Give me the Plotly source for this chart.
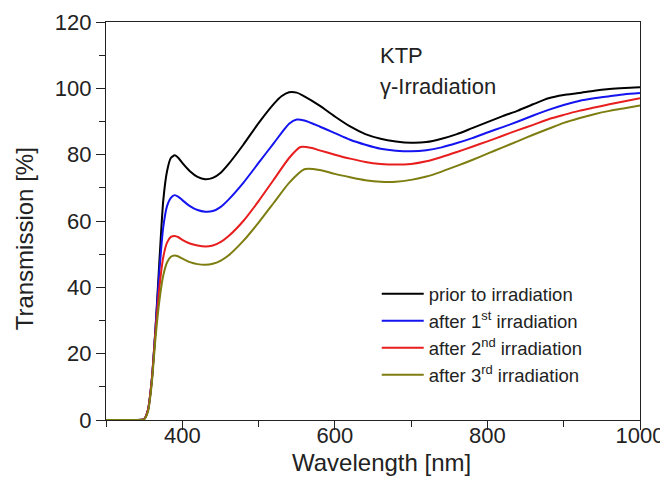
import plotly.graph_objects as go

wl_black = [300, 340, 350, 355, 360, 365, 370, 375, 380, 385, 390, 395, 400, 410, 420, 430, 440, 450, 460, 480, 500, 520, 530, 540, 550, 560, 580, 600, 620, 640, 660, 680, 700, 720, 740, 760, 780, 800, 820, 840, 860, 880, 900, 920, 940, 960, 980, 1000]
t_black = [0, 0, 0.3, 3, 12, 28, 48, 66, 75, 79, 79.8, 79, 77.5, 75, 73.3, 72.6, 73, 74.5, 77, 83, 89.5, 95.3, 97.6, 98.8, 98.7, 97.6, 94.8, 91.5, 88.5, 86.2, 84.8, 84, 83.6, 83.8, 84.8, 86.2, 88, 89.8, 91.6, 93.3, 95.2, 97, 98, 98.6, 99.3, 99.8, 100.1, 100.3]

wl_blue = [300, 340, 350, 355, 360, 365, 370, 375, 380, 385, 390, 395, 400, 410, 420, 430, 440, 450, 460, 480, 500, 520, 540, 550, 560, 580, 600, 620, 640, 660, 680, 700, 720, 740, 760, 780, 800, 820, 840, 860, 880, 900, 920, 940, 960, 980, 1000]
t_blue = [0, 0, 0.3, 3, 12, 28, 45, 58, 64.5, 67, 67.8, 67.3, 66.3, 64.5, 63.3, 62.8, 63, 64.2, 66.3, 71.5, 77.5, 83.5, 89.3, 90.6, 90.3, 88.5, 86.5, 84.5, 83, 81.8, 81.2, 81, 81.3, 82.2, 83.5, 85, 86.7, 88.3, 90, 91.8, 93.5, 95, 96.2, 97, 97.6, 98.2, 98.6]

wl_red = [300, 340, 350, 355, 360, 365, 370, 375, 380, 385, 390, 395, 400, 410, 420, 430, 440, 450, 460, 480, 500, 520, 540, 555, 570, 580, 600, 620, 640, 660, 680, 700, 720, 740, 760, 780, 800, 820, 840, 860, 880, 900, 920, 940, 960, 980, 1000]
t_red = [0, 0, 0.3, 3, 12, 27, 40, 49, 53.5, 55.2, 55.5, 55.1, 54.3, 53.2, 52.6, 52.3, 52.6, 53.6, 55.3, 60, 66, 72.5, 79, 82.3, 82, 81.3, 80, 78.8, 77.8, 77.2, 77, 77.2, 78, 79.3, 80.8, 82.4, 84, 85.7, 87.4, 89, 90.7, 92, 93.2, 94.2, 95.2, 96.1, 97]

wl_olive = [300, 340, 350, 355, 360, 365, 370, 375, 380, 385, 390, 395, 400, 410, 420, 430, 440, 450, 460, 480, 500, 520, 540, 560, 580, 600, 620, 640, 660, 680, 700, 720, 740, 760, 780, 800, 820, 840, 860, 880, 900, 920, 940, 960, 980, 1000]
t_olive = [0, 0, 0.2, 2.5, 11, 25, 36, 43.5, 47.5, 49.2, 49.6, 49.3, 48.7, 47.6, 47, 46.8, 47.1, 48, 49.5, 54, 59.5, 65.5, 71.5, 75.6, 75.4, 74.2, 73.2, 72.3, 71.8, 71.8, 72.4, 73.4, 74.9, 76.6, 78.4, 80.3, 82.2, 84.1, 86, 87.8, 89.6, 91, 92.2, 93.2, 94, 94.8]

series_names = ["prior to irradiation", "after 1<sup>st</sup> irradiation",
                "after 2<sup>nd</sup> irradiation", "after 3<sup>rd</sup> irradiation"]
series_x = [wl_black, wl_blue, wl_red, wl_olive]
series_y = [t_black, t_blue, t_red, t_olive]
colors = ["#000000", "#1414f0", "#e81e1e", "#7d7d10"]

x_ticks = [400, 600, 800, 1000]
y_ticks = [0, 20, 40, 60, 80, 100, 120]

font_family = "Liberation Sans, Arial, sans-serif"
txt = "#222222"

fig = go.Figure()
for i, (xs, ys, name, c) in enumerate(zip(series_x, series_y, series_names, colors)):
    fig.add_trace(go.Scatter(x=xs, y=ys, mode="lines", name=name,
                             line=dict(color=c, width=2, shape="spline", smoothing=0.6),
                             legendgroup=f"g{i}"))

fig.update_layout(
    width=660, height=479,
    margin=dict(l=98, r=28, t=14, b=67),
    paper_bgcolor="white", plot_bgcolor="white",
    font=dict(family=font_family, color=txt, size=22),
    showlegend=True,
    legend=dict(x=0.507, y=0.364, xanchor="left", yanchor="top",
                bgcolor="rgba(0,0,0,0)", font=dict(size=18.5, color=txt),
                tracegroupgap=0, itemwidth=42),
    annotations=[
        dict(text="KTP", x=0.509, y=0.915, xref="paper", yref="paper",
             xanchor="left", yanchor="middle", showarrow=False,
             font=dict(size=22, color=txt)),
        dict(text="γ-Irradiation", x=0.509, y=0.839, xref="paper", yref="paper",
             xanchor="left", yanchor="middle", showarrow=False,
             font=dict(size=22, color=txt)),
        dict(text="Transmission [%]", x=-0.152, y=0.456, xref="paper", yref="paper",
             xanchor="center", yanchor="middle", showarrow=False, textangle=-90,
             font=dict(size=24, color=txt)),
        dict(text="Wavelength [nm]", x=0.515, y=-0.106, xref="paper", yref="paper",
             xanchor="center", yanchor="middle", showarrow=False,
             font=dict(size=24, color=txt)),
    ],
)

fig.update_xaxes(range=[300, 1000], tickvals=x_ticks, ticks="outside", ticklen=9,
                 tickwidth=1.3, tickcolor="#222", showline=True, linecolor="#222",
                 linewidth=1.3, mirror=True, showgrid=False, zeroline=False,
                 automargin=False, ticklabelstandoff=-14,
                 minor=dict(dtick=100, tick0=300, ticks="outside", ticklen=6,
                            tickcolor="#222", showgrid=False),
                 tickfont=dict(size=22))
fig.update_yaxes(range=[0, 120], tickvals=y_ticks, ticks="outside", ticklen=9,
                 tickwidth=1.3, tickcolor="#222", showline=True, linecolor="#222",
                 linewidth=1.3, mirror=True, showgrid=False, zeroline=False,
                 automargin=False,
                 minor=dict(dtick=10, ticks="outside", ticklen=6,
                            tickcolor="#222", showgrid=False),
                 tickfont=dict(size=22))

fig.write_html("out.html")
